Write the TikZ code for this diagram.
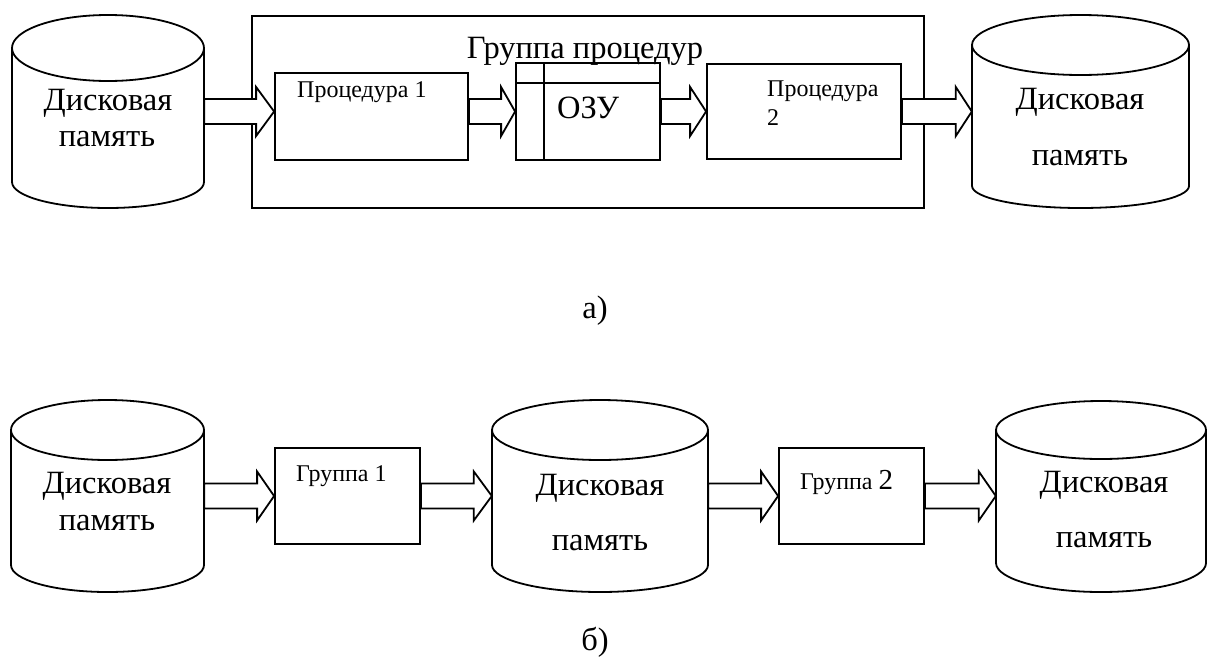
\documentclass[tikz,border=0pt]{standalone}
\usepackage{fontspec}
\setmainfont{Liberation Serif}
\usetikzlibrary{calc}
\tikzset{
  ln/.style={line width=1.8pt, line join=miter},
  boxnode/.style={draw, ln, rectangle, inner sep=0pt},
  txt/.style={inner sep=0pt, anchor=base, font=\fontsize{32.5}{38}\selectfont},
  stxt/.style={inner sep=0pt, anchor=base west, font=\fontsize{24}{29}\selectfont},
  barrow/.style={ln, fill=white},
  cylbody/.style={inner sep=0pt, rectangle}
}
% block arrow: from node anchor #1 to node anchor #2 at height #3, head length #4
\newcommand\blockarr[4]{%
  \draw[barrow] let \p1=(#1), \p2=(#2) in
    (\x1,{(12.5-#3)*1pt}) -- ({\x2-#4pt},{(12.5-#3)*1pt}) --
    ({\x2-#4pt},{(24.5-#3)*1pt}) -- (\x2,{(-#3)*1pt}) --
    ({\x2-#4pt},{(-24.5-#3)*1pt}) -- ({\x2-#4pt},{(-12.5-#3)*1pt}) --
    (\x1,{(-12.5-#3)*1pt}) -- cycle;}
% cylinder: name, x1, x2, ytop, yside1, yside2, ybottom
\newcommand\cylshape[7]{%
  \node[cylbody, minimum width={(#3-#2)*1pt}, minimum height={(#6-#5)*1pt}]
    (#1) at ({(#2+#3)/2},{-(#5+#6)/2}) {};
  \draw[ln] (#2,-#5) -- (#2,-#6)
    arc[start angle=180, end angle=360, x radius={(#3-#2)/2*1pt}, y radius={(#7-#6)*1pt}]
    -- (#3,-#5);
  \draw[ln] ({(#2+#3)/2},-#5) ellipse[x radius={(#3-#2)/2*1pt}, y radius={(#5-#4)*1pt}];
}
\begin{document}
\begin{tikzpicture}[x=1pt,y=1pt]
\fill[white] (0,0) rectangle (1209,-659);
\useasboundingbox (0,0) rectangle (1209,-659);

% ---------- a) ----------
\cylshape{cylTL}{12}{204}{15}{48}{182}{208}
\node[txt] (tTL1) at (108,-110) {Дисковая};
\node[txt] (tTL2) at (107,-146) {память};

\node[boxnode, minimum width=672pt, minimum height=192pt] (grp) at (588,-112) {};
\node[txt] (grpt) at (585,-58) {Группа процедур};

\node[boxnode, minimum width=193pt, minimum height=87pt] (p1) at (371.5,-116.5) {};
\node[stxt] (p1t) at (297,-97) {Процедура 1};

\node[boxnode, minimum width=144pt, minimum height=97pt] (ozu) at (588,-111.5) {};
\draw[ln] (ozu.west |- 0,-83) -- (ozu.east |- 0,-83);
\draw[ln] (544,0 |- ozu.north) -- (544,0 |- ozu.south);
\node[txt, anchor=base west] (ozut) at (557,-118) {ОЗУ};

\node[boxnode, minimum width=194pt, minimum height=95pt] (p2) at (804,-111.5) {};
\node[stxt] (p2t) at (767,-96) {Процедура};
\node[stxt] (p2n) at (767,-125) {2};

\cylshape{cylTR}{972}{1189}{15}{45}{186}{208}
\node[txt] (tTR1) at (1080,-109) {Дисковая};
\node[txt] (tTR2) at (1080,-165) {память};

\blockarr{cylTL.east}{p1.west}{111.5}{18}
\blockarr{p1.east}{ozu.west}{111.5}{14}
\blockarr{ozu.east}{p2.west}{111.5}{16}
\blockarr{p2.east}{cylTR.west}{111.5}{16}

\node[txt] (la) at (595,-318) {а)};

% ---------- б) ----------
\cylshape{cylBL}{11}{204}{400}{430}{565}{592}
\node[txt] (tBL1) at (107,-493) {Дисковая};
\node[txt] (tBL2) at (107,-530) {память};

\node[boxnode, minimum width=145pt, minimum height=96pt] (g1) at (347.5,-496) {};
\node[stxt] (g1t) at (296,-481) {Группа 1};

\cylshape{cylBM}{492}{708}{400}{430}{565}{592}
\node[txt] (tBM1) at (600,-495) {Дисковая};
\node[txt] (tBM2) at (600,-550) {память};

\node[boxnode, minimum width=145pt, minimum height=96pt] (g2) at (851.5,-496) {};
\node[stxt] (g2t) at (800,-489) {Группа {\fontsize{29}{34}\selectfont 2}};

\cylshape{cylBR}{996}{1206}{401}{430}{563}{592}
\node[txt] (tBR1) at (1104,-492) {Дисковая};
\node[txt] (tBR2) at (1104,-547) {память};

\blockarr{cylBL.east}{g1.west}{496}{17}
\blockarr{g1.east}{cylBM.west}{496}{18}
\blockarr{cylBM.east}{g2.west}{496}{17}
\blockarr{g2.east}{cylBR.west}{496}{17}

\node[txt] (lb) at (595,-650) {б)};
\end{tikzpicture}
\end{document}
